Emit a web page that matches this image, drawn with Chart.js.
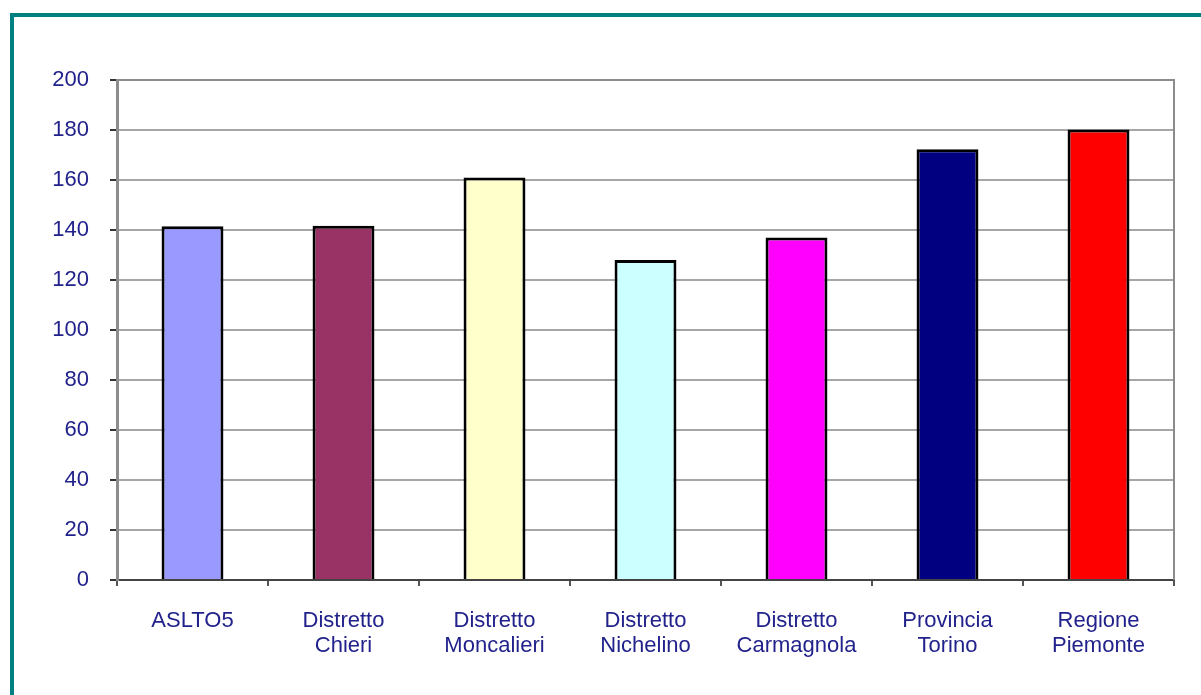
<!DOCTYPE html>
<html>
<head>
<meta charset="utf-8">
<script src="https://cdn.jsdelivr.net/npm/chart.js@4"></script>
<style>
  html, body { margin: 0; padding: 0; background: #fff; overflow: hidden; }
  #frame {
    position: absolute; left: 10px; top: 13px; width: 1300px; height: 800px;
    border-left: 4px solid #008080; border-top: 4px solid #008080;
  }
  #wrap { position: absolute; left: 0; top: 0; width: 1201px; height: 695px; }
</style>
</head>
<body>
<div id="frame"></div>
<div id="wrap"><canvas id="chart"></canvas></div>
<script>
// Data
const categories = [
  ["ASLTO5"],
  ["Distretto", "Chieri"],
  ["Distretto", "Moncalieri"],
  ["Distretto", "Nichelino"],
  ["Distretto", "Carmagnola"],
  ["Provincia", "Torino"],
  ["Regione", "Piemonte"]
];
const values = [141.5, 141.7, 161, 128, 137, 172.3, 180.2];
const barColors = ["#9999ff", "#993366", "#ffffcc", "#ccffff", "#ff00ff", "#000080", "#ff0000"];
const yTicks = [0, 20, 40, 60, 80, 100, 120, 140, 160, 180, 200];

const textColor = "#22228c";
const font = { family: "'Liberation Sans', Arial, sans-serif", size: 22, lineHeight: 1.14 };

// plot frame on top and right
const framePlugin = {
  id: "frame",
  afterDraw(chart) {
    const a = chart.chartArea;
    const ctx = chart.ctx;
    ctx.save();
    ctx.strokeStyle = "#8c8c8c";
    ctx.lineWidth = 2;
    ctx.beginPath();
    ctx.moveTo(a.left, a.top);
    ctx.lineTo(a.right, a.top);
    ctx.lineTo(a.right, a.bottom);
    ctx.stroke();
    ctx.restore();
  }
};

new Chart(document.getElementById("chart"), {
  type: "bar",
  data: {
    labels: categories,
    datasets: [{
      data: values,
      backgroundColor: barColors,
      borderColor: "#000",
      borderWidth: 3,
      barPercentage: 0.41,
      categoryPercentage: 1
    }]
  },
  options: {
    responsive: true,
    maintainAspectRatio: false,
    animation: false,
    layout: { padding: { top: 80, right: 27, left: 0, bottom: 0 } },
    plugins: { legend: { display: false }, tooltip: { enabled: false } },
    scales: {
      x: {
        afterFit(scale) { scale.height = 115; },
        grid: {
          offset: true,
          drawOnChartArea: false,
          drawTicks: true,
          tickLength: 6,
          color: "#555",
          lineWidth: 2
        },
        border: { color: "#444", width: 2 },
        ticks: { color: textColor, font: font, padding: 22, maxRotation: 0, autoSkip: false }
      },
      y: {
        min: 0,
        max: 200,
        afterFit(scale) { scale.width = 117; },
        afterBuildTicks(scale) { scale.ticks = yTicks.map(v => ({ value: v })); },
        grid: {
          color: "#a6a6a6",
          lineWidth: 2,
          tickLength: 7,
          tickColor: "#333",
          tickWidth: 2
        },
        border: { color: "#8c8c8c", width: 3 },
        ticks: { color: textColor, font: font, padding: 21 }
      }
    }
  },
  plugins: [framePlugin]
});
</script>
</body>
</html>
